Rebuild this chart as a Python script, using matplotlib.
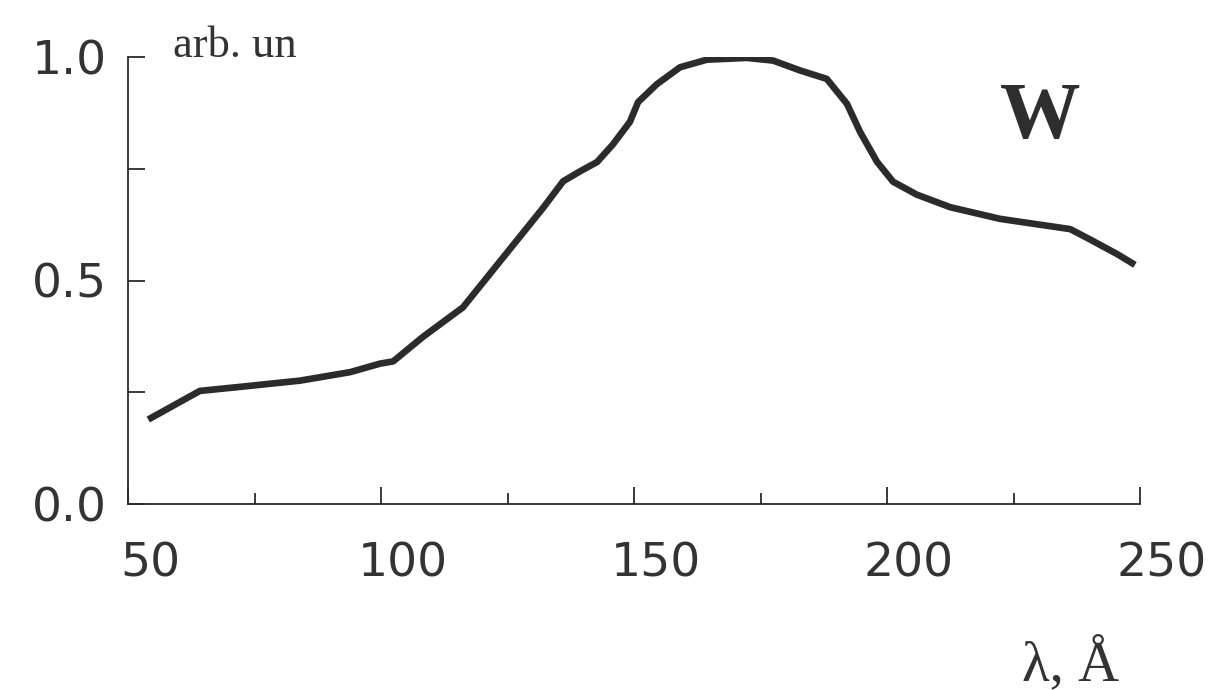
import matplotlib
matplotlib.use("Agg")
import matplotlib.pyplot as plt
from matplotlib.transforms import ScaledTranslation

# Data
wavelength = [54.0, 64.2, 72.1, 84.0, 93.9, 99.8, 102.4, 108.3, 116.2, 124.1, 132.0, 136.0,
              139.3, 142.7, 145.8, 149.2, 150.8, 154.5, 159.1, 164.4, 172.3, 177.5, 182.8,
              188.1, 192.1, 194.7, 198.0, 201.2, 205.9, 212.5, 222.3, 228.9, 236.2, 240.1,
              245.5, 249.0]
intensity = [0.189, 0.253, 0.262, 0.276, 0.295, 0.314, 0.319, 0.374, 0.440, 0.551, 0.662, 0.722,
             0.744, 0.765, 0.804, 0.855, 0.899, 0.939, 0.977, 0.994, 0.998, 0.992, 0.970,
             0.951, 0.895, 0.832, 0.766, 0.721, 0.692, 0.664, 0.638, 0.627, 0.615, 0.592,
             0.559, 0.535]
x_major = [50, 100, 150, 200, 250]
x_minor = [75, 125, 175, 225]
y_major = [0.0, 0.5, 1.0]
y_minor = [0.25, 0.75]
y_labels = ["0.0", "0.5", "1.0"]
x_labels = ["50", "100", "150", "200", "250"]

ink = "#2b2b2b"
fig = plt.figure(figsize=(12.27, 6.9), dpi=100)
ax = fig.add_axes([128/1227, 1 - 504/690, (1140 - 128)/1227, (504 - 57)/690])

ax.plot(wavelength, intensity, color=ink, lw=4.8, solid_capstyle="butt", solid_joinstyle="round")
ax.set_xlim(50, 250)
ax.set_ylim(0, 1.0)

for s in ["top", "right"]:
    ax.spines[s].set_visible(False)
for s in ["left", "bottom"]:
    ax.spines[s].set_color(ink)
    ax.spines[s].set_linewidth(1.3)

ax.set_xticks(x_major)
ax.set_xticklabels(x_labels)
ax.set_xticks(x_minor, minor=True)
ax.set_yticks(y_major)
ax.set_yticklabels(y_labels)
ax.set_yticks(y_minor, minor=True)

ax.tick_params(axis="x", which="major", direction="in", length=12, width=1.3, color=ink,
               pad=27, labelsize=34, labelcolor="#333333")
ax.tick_params(axis="x", which="minor", direction="in", length=8, width=1.3, color=ink)
ax.tick_params(axis="y", which="both", direction="in", length=12, width=1.3, color=ink,
               pad=15, labelsize=34, labelcolor="#333333")
for lab in ax.get_xticklabels() + ax.get_yticklabels():
    lab.set_fontfamily("DejaVu Sans")
for lab in ax.get_xticklabels():
    lab.set_transform(lab.get_transform() + ScaledTranslation(0.22, 0, fig.dpi_scale_trans))

fig.text(173/1227, 1 - 57/690, "arb. un", family="Liberation Serif", fontsize=32,
         color="#333333", va="baseline", ha="left")
fig.text(1000/1227, 1 - 138/690, "W", family="Liberation Serif", fontweight="bold",
         fontsize=58, color="#2e2e2e", va="baseline", ha="left")
fig.text(1022/1227, 1 - 680/690, "λ, Å", family="Liberation Serif", fontsize=41,
         color="#333333", va="baseline", ha="left")

fig.savefig("out.png", dpi=100, facecolor="white")
